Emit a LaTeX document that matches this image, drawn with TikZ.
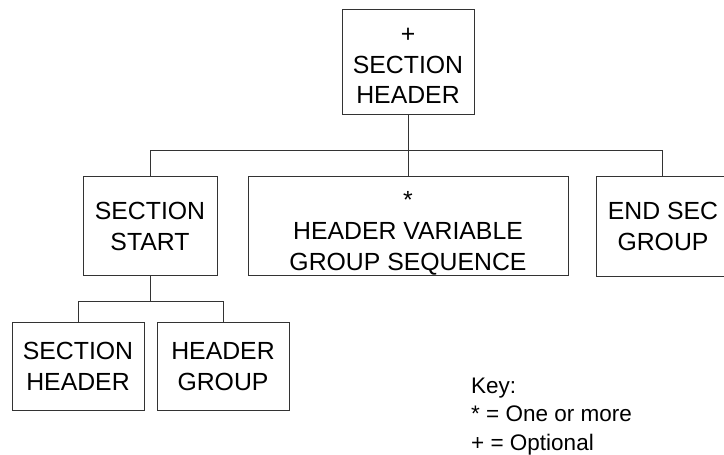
\documentclass[tikz,border=0pt]{standalone}
\usepackage{fontspec}
\setmainfont{Liberation Sans}
\tikzset{
  blk/.style={draw=black!80, line width=1pt, inner sep=0pt, font=\fontsize{24.8}{31}\selectfont},
  conn/.style={draw=black!80, line width=1pt},
  keytext/.style={inner sep=0pt, font=\fontsize{22.5}{28.5}\selectfont},
}
\newcommand\bt[4]{\parbox[c][#2][t]{#1}{\centering\rule{0pt}{#3}#4\par}}
\begin{document}
\begin{tikzpicture}[x=1pt,y=-1pt]
\useasboundingbox (0,0) rectangle (724,455);
\node[blk] (top) at (408,61.5) {\bt{132pt}{105pt}{33pt}{+\\SECTION\\HEADER}};
\node[blk] (start) at (150,225.75) {\bt{134pt}{99.5pt}{43.3pt}{SECTION\\START}};
\node[blk] (hvgs) at (408,225.75) {\bt{320pt}{99.5pt}{32pt}{{*}\\HEADER VARIABLE\\GROUP SEQUENCE}};
\node[blk, anchor=north west] (end) at (596,176) {\bt{133pt}{99.5pt}{43.3pt}{END SEC\\GROUP}\hspace*{20pt}};
\node[blk] (sh) at (78,366) {\bt{132pt}{88pt}{37pt}{SECTION\\HEADER}};
\node[blk] (hg) at (223,366) {\bt{132pt}{88pt}{37pt}{HEADER\\GROUP}};
\node[keytext, anchor=base west] (key) at (471,393) {\parbox[t]{220pt}{\raggedright Key:\\{*} = One or more\\{+} = Optional}};
\coordinate (b1) at (0,150);
\coordinate (b2) at (0,301);
\coordinate (endtop) at ([xshift=66.5pt]end.north west);
\draw[conn] (top.south) -- (hvgs.north);
\draw[conn] (start.north) -- (start.north |- b1) -- (endtop |- b1) -- (endtop);
\draw[conn] (start.south) -- (start.south |- b2);
\draw[conn] (sh.north) -- (sh.north |- b2) -- (hg.north |- b2) -- (hg.north);
\end{tikzpicture}
\end{document}
